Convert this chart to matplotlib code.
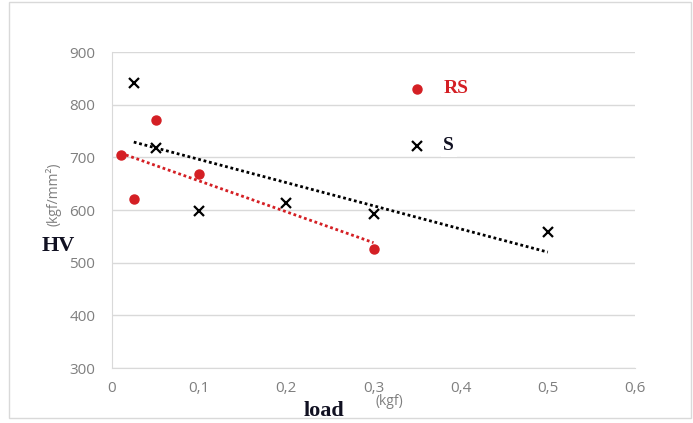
import matplotlib.pyplot as plt
from matplotlib.patches import Rectangle

# RS samples (red dots); the last point doubles as the legend marker
rs_load = [0.01, 0.025, 0.05, 0.1, 0.3, 0.35]
rs_hv = [705, 620, 770, 668, 525, 830]

# S samples (black crosses); the last point doubles as the legend marker
s_load = [0.025, 0.05, 0.1, 0.2, 0.3, 0.5, 0.35]
s_hv = [842, 717, 598, 613, 593, 558, 722]

# trend line ends
rs_trend_x = [0.01, 0.3]
rs_trend_y = [708, 538]
s_trend_x = [0.025, 0.5]
s_trend_y = [729, 520]

xticks = [0, 0.1, 0.2, 0.3, 0.4, 0.5, 0.6]
xlabels = ['0', '0,1', '0,2', '0,3', '0,4', '0,5', '0,6']
yticks = [300, 400, 500, 600, 700, 800, 900]

red = '#D41F24'
grey = '#7F7F7F'
serif = 'Liberation Serif'

fig = plt.figure(figsize=(6.93, 4.23), dpi=100)
ax = fig.add_axes([112 / 693, 55 / 423, 523 / 693, 316 / 423])

ax.plot(s_trend_x, s_trend_y, color='black', lw=2, linestyle=(0, (1, 1)), zorder=2)
ax.plot(rs_trend_x, rs_trend_y, color=red, lw=2, linestyle=(0, (1, 1)), zorder=2)
ax.plot(rs_load, rs_hv, 'o', color=red, ms=6.5, mec=red, zorder=3)
ax.plot(s_load, s_hv, 'x', color='black', ms=6.5, mew=1.6, zorder=3)

ax.set_xlim(0, 0.6)
ax.set_ylim(300, 900)
ax.set_xticks(xticks)
ax.set_xticklabels(xlabels)
ax.set_yticks(yticks)
ax.grid(axis='y', color='#D9D9D9', lw=1)
ax.set_axisbelow(True)
ax.tick_params(length=0, labelsize=11, labelcolor=grey, pad=12)
ax.tick_params(axis='x', pad=9)
for lab in ax.get_xticklabels() + ax.get_yticklabels():
    lab.set_family('Open Sans')
for side in ['top', 'right']:
    ax.spines[side].set_visible(False)
for side in ['left', 'bottom']:
    ax.spines[side].set_color('#D9D9D9')

box = dict(facecolor='white', edgecolor='none', pad=2)
ax.text(0.38, 830, 'RS', color=red, fontsize=14, fontweight='bold',
        family=serif, va='center', bbox=box)
ax.text(0.38, 722, 'S', color='#111122', fontsize=14, fontweight='bold',
        family=serif, va='center', bbox=box)

fig.text(58 / 693, 1 - 246 / 423, 'HV', fontsize=16, fontweight='bold',
         family=serif, color='#111122', ha='center', va='center')
fig.text(54 / 693, 1 - 194 / 423, '(kgf/mm²)', fontsize=10, color=grey,
         rotation=90, ha='center', va='center', family='Open Sans')
fig.text(324 / 693, 1 - 411 / 423, 'load', fontsize=16, fontweight='bold',
         family=serif, color='#111122', ha='center', va='center')
fig.text(389 / 693, 1 - 401 / 423, '(kgf)', fontsize=10, color=grey,
         ha='center', va='center', family='Open Sans')

fig.patches.append(Rectangle((9 / 693, 5 / 423), 682 / 693, 416 / 423,
                             transform=fig.transFigure, fill=False,
                             edgecolor='#D9D9D9', lw=1))

fig.savefig('out.png', dpi=100)
